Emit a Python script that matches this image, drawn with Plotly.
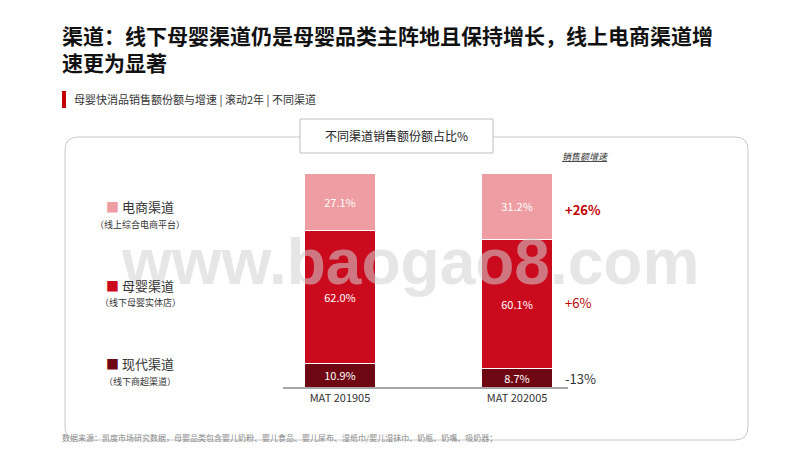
import plotly.graph_objects as go

periods = ["MAT 201905", "MAT 202005"]
channels = ["现代渠道", "母婴渠道", "电商渠道"]
channel_notes = ["（线下商超渠道）", "（线下母婴实体店）", "（线上综合电商平台）"]
shares = {
    "现代渠道": [10.9, 8.7],
    "母婴渠道": [62.0, 60.1],
    "电商渠道": [27.1, 31.2],
}
growth = ["-13%", "+6%", "+26%"]
colors = {"现代渠道": "#6E0712", "母婴渠道": "#CC0A1E", "电商渠道": "#EE9DA3"}
text_font = "Noto Sans CJK SC"

W, H = 800, 450
def px(x):
    return x / W
def py(y):
    return 1 - y / H

fig = go.Figure()
for ch in channels:
    fig.add_trace(go.Bar(
        x=[0, 1], y=shares[ch], name=ch, width=0.4,
        marker=dict(color=colors[ch], line=dict(color="white", width=1)),
        text=[f"{v:.1f}%" for v in shares[ch]], textposition="inside",
        insidetextanchor="middle", textfont=dict(color="white", size=11, family=text_font),
        hoverinfo="skip",
    ))

fig.update_layout(
    barmode="stack", width=W, height=H, showlegend=False,
    margin=dict(l=0, r=0, t=0, b=0),
    paper_bgcolor="white", plot_bgcolor="white",
    uniformtext=dict(minsize=11, mode="show"),
    xaxis=dict(domain=[px(283), px(568)], range=[-0.322, 1.288],
               tickvals=[0, 1], ticktext=periods, showline=True, linecolor="#A6A6A6",
               linewidth=2, ticks="", showgrid=False, zeroline=False,
               tickfont=dict(size=11, color="#333", family=text_font)),
    yaxis=dict(domain=[py(387), py(173)], range=[0, 100], visible=False),
    font=dict(family=text_font),
)

shapes = [
    # rounded outer panel
    dict(type="path", xref="paper", yref="paper", line=dict(color="#C8C8C8", width=1),
         path=f"M {px(78)},{py(137)} L {px(735)},{py(137)} Q {px(748)},{py(137)} {px(748)},{py(150)} "
              f"L {px(748)},{py(427)} Q {px(748)},{py(440)} {px(735)},{py(440)} "
              f"L {px(78)},{py(440)} Q {px(65)},{py(440)} {px(65)},{py(427)} "
              f"L {px(65)},{py(150)} Q {px(65)},{py(137)} {px(78)},{py(137)} Z"),
    dict(type="rect", xref="paper", yref="paper", x0=px(300), x1=px(493), y0=py(153), y1=py(119),
         fillcolor="white", line=dict(color="#BFBFBF", width=1)),
    dict(type="rect", xref="paper", yref="paper", x0=px(62), x1=px(66), y0=py(108), y1=py(91),
         fillcolor="#C00000", line=dict(width=0)),
]
fig.update_layout(shapes=shapes)

ann = [
    dict(x=px(60), y=py(48), text="<b>渠道：线下母婴渠道仍是母婴品类主阵地且保持增长，线上电商渠道增<br>速更为显著</b>",
         font=dict(size=21, color="#111", family=text_font), xanchor="left", yanchor="middle", align="left"),
    dict(x=px(72), y=py(99), text="母婴快消品销售额份额与增速 | 滚动2年 | 不同渠道",
         font=dict(size=11, color="#333"), xanchor="left", yanchor="middle"),
    dict(x=px(396), y=py(135), text="不同渠道销售额份额占比%", font=dict(size=12, color="#222"),
         xanchor="center", yanchor="middle"),
    dict(x=px(585), y=py(156), text="<u><i>销售额增速</i></u>", font=dict(size=9, color="#333"),
         xanchor="center", yanchor="middle"),
    dict(x=px(60), y=py(437), text="数据来源：凯度市场研究数据，母婴品类包含婴儿奶粉、婴儿食品、婴儿尿布、湿纸巾/婴儿湿抹巾、奶瓶、奶嘴、吸奶器；",
         font=dict(size=8, color="#888"), xanchor="left", yanchor="middle"),
    dict(x=px(410), y=py(262), text="<b>www.baogao8.com</b>", font=dict(size=64, color="rgba(210,210,210,0.55)", family="Liberation Sans"),
         xanchor="center", yanchor="middle"),
]
label_y = [(363, 381), (285, 302), (207, 224)]
for i, ch in enumerate(channels):
    ann.append(dict(x=px(140), y=py(label_y[i][0]), text=f"<span style='color:{colors[ch]}'>■</span> {ch}",
                    font=dict(size=13, color="#333"), xanchor="center", yanchor="middle"))
    ann.append(dict(x=px(140), y=py(label_y[i][1]), text=channel_notes[i],
                    font=dict(size=9, color="#333"), xanchor="center", yanchor="middle"))
growth_y = [378, 302, 209]
growth_colors = ["#333", "#C00000", "#C00000"]
for i, g in enumerate(growth):
    ann.append(dict(x=px(563), y=py(growth_y[i]), text=f"<b>{g}</b>" if i == 2 else g,
                    font=dict(size=13, color=growth_colors[i]), xanchor="left", yanchor="middle"))
for a in ann:
    a.setdefault("xref", "paper")
    a.setdefault("yref", "paper")
    a["showarrow"] = False
fig.update_layout(annotations=ann)

fig.write_html("out.html", config={"displayModeBar": False},
               post_script="document.body.style.margin='0';")
